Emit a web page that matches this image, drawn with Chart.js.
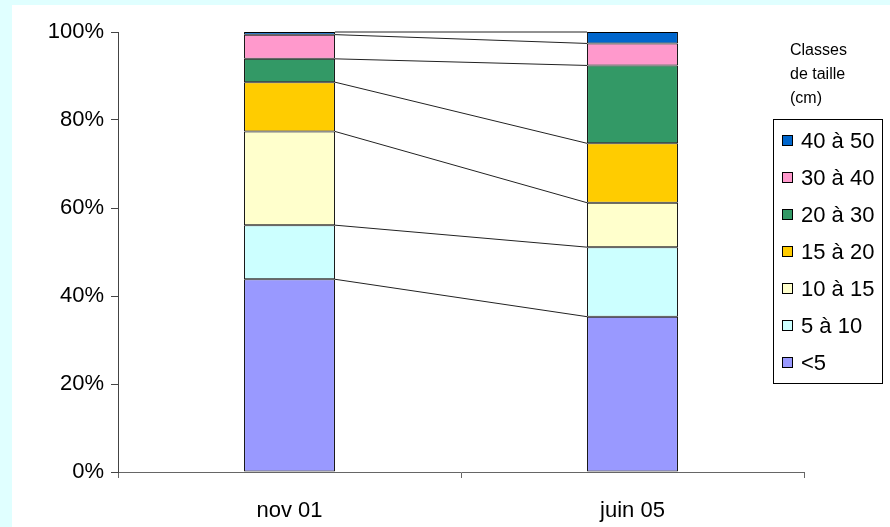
<!DOCTYPE html>
<html lang="fr">
  <head>
    <meta charset="UTF-8" />
    <title>Classes de taille</title>
    <style>
      body {
        margin: 0;
        padding: 0;
        background-color: #e0ffff;
        font-family: "Liberation Sans", Arial, sans-serif;
      }
      .container {
        position: absolute;
        left: 12px;
        top: 5px;
        width: 878px;
        height: 522px;
        background-color: #fff;
      }
    </style>
  </head>

  <body>
    <div class="container">
      <canvas id="sizeChart" width="878" height="522"></canvas>
    </div>
    <script src="https://cdn.jsdelivr.net/npm/chart.js"></script>
    <script>
      // values (percent of each sample)
      const categories = ["nov 01", "juin 05"];
      const classNames = ["<5", "5 à 10", "10 à 15", "15 à 20", "20 à 30", "30 à 40", "40 à 50"];
      const lessThan5 = [43.8, 35.3];
      const from5to10 = [12.3, 15.8];
      const from10to15 = [21.3, 10.1];
      const from15to20 = [11.2, 13.5];
      const from20to30 = [5.3, 17.7];
      const from30to40 = [5.5, 5.0];
      const from40to50 = [0.6, 2.6];
      const yTicks = [0, 20, 40, 60, 80, 100];
      const legendTitle = ["Classes", "de taille", "(cm)"];

      const colors = ["#9999ff", "#ccffff", "#ffffcc", "#ffcc00", "#339966", "#ff99cc", "#0066cc"];
      const series = [lessThan5, from5to10, from10to15, from15to20, from20to30, from30to40, from40to50];

      const font = "Liberation Sans";

      // Excel-like series lines between the stacked bars
      const seriesLines = {
        id: "seriesLines",
        afterDatasetsDraw(chart) {
          const ctx = chart.ctx;
          ctx.save();
          ctx.strokeStyle = "#222";
          ctx.lineWidth = 1;
          chart.data.datasets.forEach((ds, i) => {
            const bars = chart.getDatasetMeta(i).data;
            const a = bars[0];
            const b = bars[1];
            ctx.beginPath();
            ctx.moveTo(a.x + a.width / 2, a.y);
            ctx.lineTo(b.x - b.width / 2, b.y);
            ctx.stroke();
          });
          ctx.restore();
        },
      };

      // boxed legend with a title above, like the original
      const boxLegend = {
        id: "boxLegend",
        afterDraw(chart) {
          const ctx = chart.ctx;
          ctx.save();
          ctx.fillStyle = "#000";
          ctx.textBaseline = "middle";
          ctx.textAlign = "left";
          ctx.font = "16px '" + font + "'";
          legendTitle.forEach((t, i) => ctx.fillText(t, 778, 46 + i * 24));

          ctx.strokeStyle = "#000";
          ctx.lineWidth = 1;
          ctx.strokeRect(761.5, 114.5, 109, 264);

          ctx.font = "22px '" + font + "'";
          const items = chart.data.datasets.slice().reverse();
          items.forEach((ds, i) => {
            const y = 136 + i * 37;
            ctx.fillStyle = ds.backgroundColor;
            ctx.fillRect(770.5, y - 5.5, 10, 10);
            ctx.strokeRect(770.5, y - 5.5, 10, 10);
            ctx.fillStyle = "#000";
            ctx.fillText(ds.label, 789, y + 1);
          });
          ctx.restore();
        },
      };

      const ctx = document.getElementById("sizeChart").getContext("2d");
      new Chart(ctx, {
        type: "bar",
        data: {
          labels: categories,
          datasets: classNames.map((name, i) => ({
            label: name,
            data: series[i],
            backgroundColor: colors[i],
            borderColor: "#000",
            borderWidth: 1,
            borderSkipped: false,
            barPercentage: 0.53,
            categoryPercentage: 0.5,
          })),
        },
        options: {
          responsive: false,
          animation: false,
          layout: { padding: { top: 27, right: 86, left: 0, bottom: 0 } },
          plugins: {
            legend: { display: false },
            tooltip: { enabled: false },
          },
          scales: {
            x: {
              stacked: true,
              afterFit: (scale) => { scale.height = 55; },
              grid: { offset: true, drawOnChartArea: false, tickLength: 6, color: "#666" },
              border: { color: "#666" },
              ticks: { color: "#000", padding: 20, font: { family: font, size: 22 } },
            },
            y: {
              stacked: true,
              min: 0,
              max: 100,
              afterFit: (scale) => { scale.width = 106; },
              afterBuildTicks: (scale) => { scale.ticks = yTicks.map((v) => ({ value: v })); },
              grid: { drawOnChartArea: false, tickLength: 7, color: "#444" },
              border: { color: "#444" },
              ticks: {
                color: "#000",
                padding: 7,
                font: { family: font, size: 22 },
                callback: (v) => v + "%",
              },
            },
          },
        },
        plugins: [seriesLines, boxLegend],
      });
    </script>
  </body>
</html>
